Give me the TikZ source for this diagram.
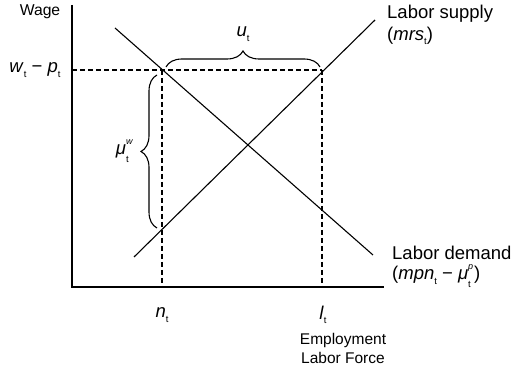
\documentclass[tikz,border=0pt]{standalone}
\usepackage{fontspec}
\setmainfont{Liberation Sans}
\usetikzlibrary{decorations.pathreplacing,calc}
\newcommand\subt{\raisebox{-0.45ex}{\fontsize{9.5}{9.5}\selectfont t}}
\newcommand\supsub[1]{\makebox[6pt][l]{\rlap{\raisebox{1.1ex}{\fontsize{9}{9}\selectfont\textit{#1}}}\raisebox{-0.8ex}{\fontsize{9.5}{9.5}\selectfont t}}}
\newcommand\lbl{\fontsize{18.5}{20}\selectfont}
\tikzset{
  ax/.style={line width=1.1pt},
  curve/.style={line width=1.1pt},
  guide/.style={line width=1.1pt, dash pattern=on 5pt off 3pt},
  brc/.style={line width=1.1pt, decorate, decoration={brace, amplitude=16pt}},
  txt/.style={inner sep=0pt, font=\lbl},
}
\begin{document}
\begin{tikzpicture}[x=1pt,y=1pt]
\useasboundingbox (0,0) rectangle (512,369);
% axes
\coordinate (O) at (72,82);
\coordinate (ytop) at (72,364);
\coordinate (xend) at (384,82);
\draw[ax] (ytop) -- (O) -- (xend);
% curves
\coordinate (d1) at (115,341);
\coordinate (d2) at (373,114);
\coordinate (s1) at (134,112);
\coordinate (s2) at (375,349);
\draw[curve] (d1) -- (d2);
\draw[curve] (s1) -- (s2);
% guide points
\coordinate (A) at (162,299);
\coordinate (B) at (322,299);
\coordinate (wy) at (72,299);
\coordinate (nx) at (162,82);
\coordinate (lx) at (322,82);
\draw[guide] (wy) -- (B);
\draw[guide] (A) -- (nx);
\draw[guide] (B) -- (lx);
% braces
\coordinate (ub1) at (166,302);
\coordinate (ub2) at (320,302);
\draw[brc] (ub1) -- (ub2);
\coordinate (mb1) at (157,141);
\coordinate (mb2) at (157,294);
\draw[brc] (mb1) -- (mb2);
% labels
\node[inner sep=0pt, font=\fontsize{15.7}{17}\selectfont] (wage) at (40,357) {Wage};
\node[txt] (wp) at (35,299) {\textit{w}\subt\ − \textit{p}\subt};
\node[txt] (ut) at (243,335) {\textit{u}\subt};
\node[txt] (mu) at (124,218) {\textit{μ}\supsub{w}};
\node[txt, anchor=west] (ls1) at (387,355) {Labor supply};
\node[txt, anchor=west] (ls2) at (387,333) {(\textit{mrs}\subt)};
\node[txt, anchor=west] (ld1) at (392,116) {Labor demand};
\node[txt, anchor=west] (ld2) at (392,93) {(\textit{mpn}\subt\ − \textit{μ}\supsub{p})};
\node[txt] (nt) at (162,54) {\textit{n}\subt};
\node[txt] (lt) at (323,54) {\textit{l}\subt};
\node[inner sep=0pt, font=\fontsize{15.5}{19}\selectfont, align=center] (emp) at (343,21) {Employment\\Labor Force};
\end{tikzpicture}
\end{document}
